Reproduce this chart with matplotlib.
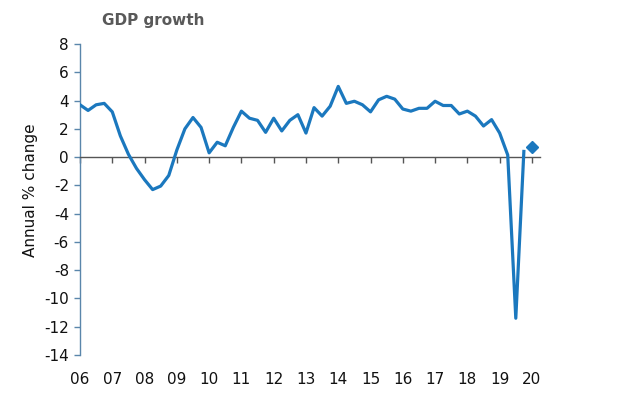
import matplotlib
matplotlib.use("Agg")
import matplotlib.pyplot as plt
import numpy as np

plt.rcParams['font.family'] = ['DejaVu Sans']
plt.rcParams['axes.unicode_minus'] = False

# Quarterly GDP growth, annual % change, starting 2006 Q1
gdp_growth = [3.7, 3.3, 3.7, 3.8, 3.2, 1.5, 0.2, -0.8, -1.6, -2.3, -2.05, -1.3,
              0.5, 2.0, 2.8, 2.1, 0.3, 1.05, 0.8, 2.1, 3.25, 2.75, 2.6, 1.75,
              2.75, 1.85, 2.6, 3.0, 1.7, 3.5, 2.9, 3.6, 5.0, 3.8, 3.95, 3.7,
              3.2, 4.05, 4.3, 4.1, 3.4, 3.25, 3.45, 3.45, 3.95, 3.65, 3.65, 3.05,
              3.25, 2.9, 2.2, 2.65, 1.7, 0.15, -11.4, 0.4]
start_year = 2006
forecast_year = 2020
forecast_value = 0.7
year_ticks = list(range(2006, 2021))
year_labels = ['06', '07', '08', '09', '10', '11', '12', '13', '14', '15',
               '16', '17', '18', '19', '20']
y_ticks = list(range(-14, 9, 2))

x = start_year + np.arange(len(gdp_growth)) / 4.0

fig = plt.figure(figsize=(6.2, 3.94), dpi=100)
ax = fig.add_axes([80/620, 1-355/394, 460/620, 311/394])

line_color = '#1b78be'
spine_color = '#5a86ab'

ax.plot(x, gdp_growth, color=line_color, lw=2.3, solid_joinstyle='round', zorder=3)
ax.plot([forecast_year], [forecast_value], marker='D', color=line_color,
        markersize=6.5, linestyle='none', zorder=3)

ax.set_xlim(2006, 2020.25)
ax.set_ylim(-14, 8)

for s in ['top', 'right']:
    ax.spines[s].set_visible(False)
ax.spines['left'].set_color(spine_color)
ax.spines['left'].set_linewidth(1.0)
ax.spines['bottom'].set_position(('data', 0))
ax.spines['bottom'].set_color('#555555')
ax.spines['bottom'].set_linewidth(1.0)

ax.set_yticks(y_ticks)
ax.tick_params(axis='y', direction='out', length=4, width=1, color=spine_color,
               labelsize=11, labelcolor='#111111', pad=4)
ax.set_xticks(year_ticks)
ax.tick_params(axis='x', direction='out', length=4, width=1, color='#555555',
               labelbottom=False)

secax = ax.secondary_xaxis(0)
secax.set_xticks(year_ticks, year_labels)
secax.tick_params(length=0, labelsize=11, labelcolor='#111111', pad=12)
secax.spines['bottom'].set_visible(False)

ax.set_ylabel('Annual % change', fontsize=11, color='#111111')
ax.yaxis.set_label_coords(-0.092, 0.53)

fig.text(102/620, 1-20/394, 'GDP growth', fontsize=11, fontweight='bold',
         color='#595959', ha='left', va='center')

fig.savefig('out.png', dpi=100, facecolor='white')
